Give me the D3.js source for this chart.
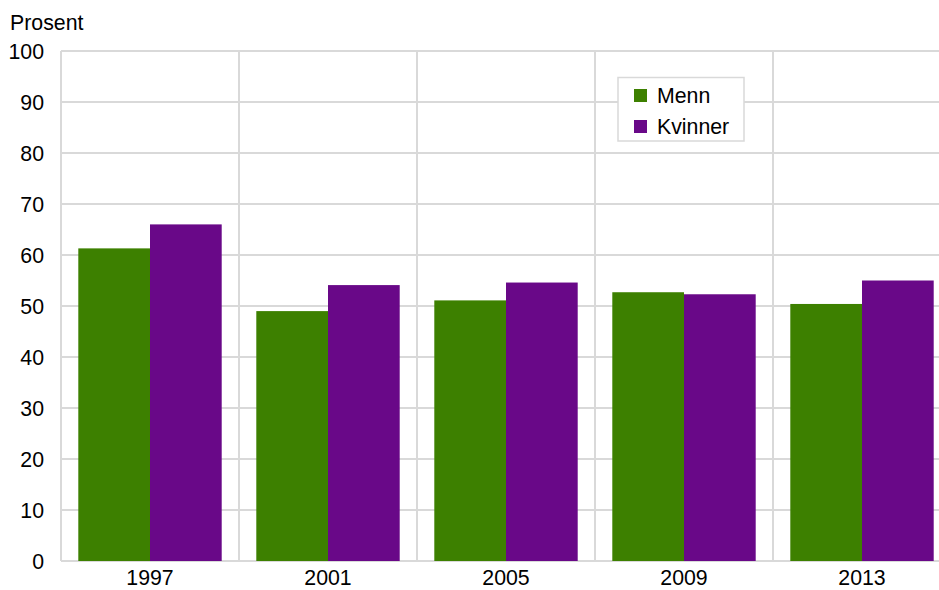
<!DOCTYPE html>
<html><head><meta charset="utf-8">
<script src="https://cdn.jsdelivr.net/npm/d3@7"></script>
<style>body{margin:0;background:#fff}svg{display:block;font-family:"Liberation Sans",Arial,sans-serif}</style>
</head><body><svg id="c" width="939" height="590"></svg>
<script>
const years = ["1997","2001","2005","2009","2013"];
const menn = [61.3, 49.0, 51.1, 52.7, 50.4];
const kvinner = [66.0, 54.1, 54.6, 52.3, 55.0];
const seriesNames = ["Menn","Kvinner"];
const colors = ["#3d8000","#690888"];
const yTicks = [0,10,20,30,40,50,60,70,80,90,100];

const svg = d3.select("#c");
const mL = 61, mR = 951, mT = 51, mB = 561;
const x = d3.scaleBand().domain(years).range([mL, mR]).paddingInner(0).paddingOuter(0);
const y = d3.scaleLinear().domain([0,100]).range([mB, mT]);
const grid = "#d9d9d9";
const fs = 21.3;

// horizontal grid
svg.append("g").selectAll("line").data(yTicks).join("line")
  .attr("x1", mL).attr("x2", 939).attr("y1", d=>y(d)).attr("y2", d=>y(d))
  .attr("stroke", grid).attr("stroke-width", 2);
// vertical grid at band edges
const edges = years.map(d=>x(d)).concat([mR]);
svg.append("g").selectAll("line").data(edges).join("line")
  .attr("x1", d=>d).attr("x2", d=>d).attr("y1", mT).attr("y2", mB)
  .attr("stroke", grid).attr("stroke-width", 2);

// bars
const bw = x.bandwidth();
const sub = d3.scaleBand().domain(seriesNames).range([bw*0.0972, bw*(1-0.0972)]).padding(0);
const data = [];
years.forEach((yr,i)=>{ data.push({yr, s:"Menn", v:menn[i]}); data.push({yr, s:"Kvinner", v:kvinner[i]}); });
svg.append("g").selectAll("rect").data(data).join("rect")
  .attr("x", d=>x(d.yr)+sub(d.s)).attr("width", sub.bandwidth())
  .attr("y", d=>y(d.v)).attr("height", d=>y(0)-y(d.v))
  .attr("fill", d=>colors[seriesNames.indexOf(d.s)]);

// y axis labels
svg.append("g").selectAll("text").data(yTicks).join("text")
  .attr("x", 44).attr("y", d=>y(d)+8).attr("text-anchor","end")
  .attr("font-size", fs).attr("fill","#000").text(d=>d);
// x axis labels
svg.append("g").selectAll("text").data(years).join("text")
  .attr("x", d=>x(d)+bw/2).attr("y", 585).attr("text-anchor","middle")
  .attr("font-size", fs).attr("fill","#000").text(d=>d);
// y title
svg.append("text").attr("x", 10).attr("y", 30).attr("font-size", fs).text("Prosent");

// legend
const lg = svg.append("g");
lg.append("rect").attr("x", 618).attr("y", 77.5).attr("width", 126).attr("height", 63.5)
  .attr("fill","#fff").attr("stroke", grid).attr("stroke-width", 1.5);
seriesNames.forEach((s,i)=>{
  lg.append("rect").attr("x", 634).attr("y", 89+i*31).attr("width", 13).attr("height", 13).attr("fill", colors[i]);
  lg.append("text").attr("x", 657).attr("y", 103+i*31).attr("font-size", fs).text(s);
});
</script></body></html>
